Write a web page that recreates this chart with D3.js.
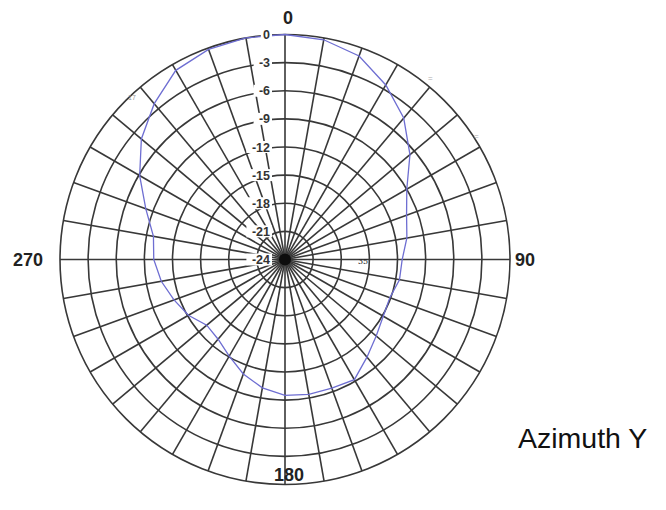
<!DOCTYPE html>
<html>
<head>
<meta charset="utf-8">
<script src="https://cdn.jsdelivr.net/npm/d3@7"></script>
<style>
  body { margin: 0; background: #fff; }
  svg { display: block; font-family: "Liberation Sans", Arial, sans-serif; }
</style>
</head>
<body>
<div id="container"></div>
<script>
// Tamaño fijo de la ventana
const WIDTH = 666;
const HEIGHT = 510;

// Datos del diagrama (dB por azimut)
const azimuths = [0, 10, 20, 30, 40, 50, 60, 70, 80, 90, 100, 110,
                  120, 130, 140, 150, 160, 170, 180, 190, 200, 210, 220, 230,
                  240, 250, 260, 270, 280, 290, 300, 310, 320, 330, 340, 350];
const gainDb = [0, -0.2, -0.9, -2.5, -4.3, -6.6, -9.0, -10.2, -10.8, -11.5, -11.6, -12.1,
                -11.9, -11.3, -10.4, -9.2, -9.4, -9.4, -9.5, -10.1, -11.0, -12.1, -12.9, -13.1,
                -12.1, -11.4, -10.6, -10.0, -9.75, -8.2, -6.1, -4.0, -2.3, -0.7, -0.15, 0];

const ringTicks = [0, -3, -6, -9, -12, -15, -18, -21, -24];
const spokeAngles = [0, 10, 20, 30, 40, 50, 60, 70, 80, 90, 100, 110,
                     120, 130, 140, 150, 160, 170, 180, 190, 200, 210, 220, 230,
                     240, 250, 260, 270, 280, 290, 300, 310, 320, 330, 340, 350];
const cardinalLabels = ['0', '90', '180', '270'];
const title = 'Azimuth Y';

const CX = 285, CY = 259.5, R = 225;

const svg = d3.select('#container')
              .append('svg')
                .attr('width', WIDTH)
                .attr('height', HEIGHT);

const g = svg.append('g')
             .attr('transform', `translate(${CX}, ${CY})`);

// Escalas: radio en dB y ángulo en grados
const r = d3.scaleLinear().domain([-24, 0]).range([0, R]);
const a = d3.scaleLinear().domain([0, 360]).range([0, 2 * Math.PI]);

const gridColor = '#383838';

// Anillos
g.append('g')
  .selectAll('circle')
  .data(ringTicks.filter(d => d > -24))
  .enter()
  .append('circle')
    .attr('r', d => r(d))
    .attr('fill', 'none')
    .attr('stroke', gridColor)
    .attr('stroke-width', 1.6);

// Radios
g.append('g')
  .selectAll('line')
  .data(spokeAngles)
  .enter()
  .append('line')
    .attr('x1', 0).attr('y1', 0)
    .attr('x2', d => r(0) * Math.sin(a(d)))
    .attr('y2', d => -r(0) * Math.cos(a(d)))
    .attr('stroke', gridColor)
    .attr('stroke-width', 1.6);

// Centro oscuro
g.append('circle').attr('r', 6).attr('fill', '#0d0d0d');

// Curva del diagrama
const line = d3.lineRadial()
               .angle((d, i) => a(azimuths[i]))
               .radius(d => r(d))
               .curve(d3.curveLinearClosed);

g.append('path')
  .attr('d', line(gainDb))
  .attr('fill', 'none')
  .attr('stroke', '#6e6ed2')
  .attr('stroke-width', 1.3);

// Etiquetas de los anillos con fondo blanco
const ringLab = g.append('g')
                 .selectAll('g')
                 .data(ringTicks)
                 .enter()
                 .append('g')
                   .attr('transform', d => `translate(-15, ${-r(d)})`);

ringLab.append('rect')
  .attr('x', d => -(String(d).length * 7.2) - 2)
  .attr('y', -6)
  .attr('width', d => String(d).length * 7.2 + 4)
  .attr('height', 12)
  .attr('fill', '#fff');

ringLab.append('text')
  .attr('text-anchor', 'end')
  .attr('dy', '0.36em')
  .attr('font-size', 12.5)
  .attr('font-weight', 'bold')
  .attr('fill', '#333')
  .text(d => d);

// Etiquetas cardinales
const cardPos = [
  { x: 288, y: 23.5, anchor: 'middle' },
  { x: 515, y: 265.5, anchor: 'start' },
  { x: 289, y: 481, anchor: 'middle' },
  { x: 43, y: 265.5, anchor: 'end' }
];

svg.append('g')
  .selectAll('text')
  .data(cardinalLabels)
  .enter()
  .append('text')
    .attr('x', (d, i) => cardPos[i].x)
    .attr('y', (d, i) => cardPos[i].y)
    .attr('text-anchor', (d, i) => cardPos[i].anchor)
    .attr('font-size', 18)
    .attr('font-weight', 'bold')
    .attr('fill', '#222')
    .text(d => d);

// Pequeñas marcas residuales de la imagen original
svg.append('text').attr('x', 128).attr('y', 100).attr('font-size', 7)
   .attr('fill', '#999').text('17');
svg.append('text').attr('x', 358).attr('y', 264).attr('font-size', 8)
   .attr('font-family', 'DejaVu Serif').attr('fill', '#222').text('35');
svg.append('text').attr('x', 428).attr('y', 81).attr('font-size', 8)
   .attr('fill', '#aaa').text('=');
svg.append('text').attr('x', 474).attr('y', 139).attr('font-size', 8)
   .attr('fill', '#aaa').text('=');

// Título
svg.append('text')
   .attr('x', 518)
   .attr('y', 448)
   .attr('font-size', 28.5)
   .attr('fill', '#111')
   .text(title);
</script>
</body>
</html>
